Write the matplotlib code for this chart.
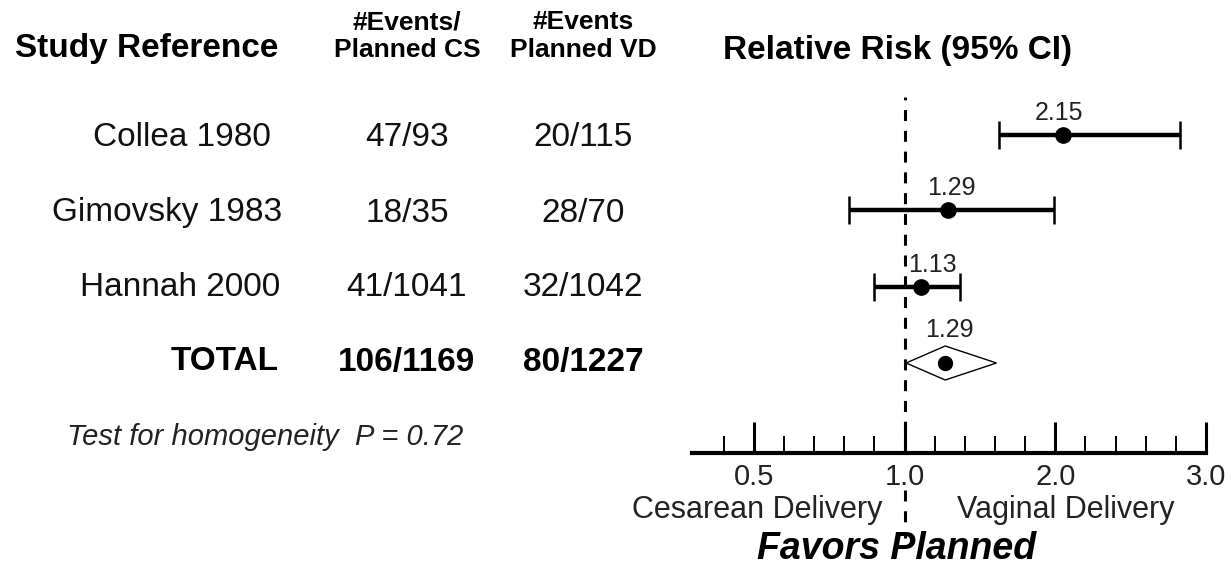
import numpy as np
import matplotlib
matplotlib.use("Agg")
import matplotlib.pyplot as plt
from matplotlib.patches import Polygon

plt.rcParams['font.family'] = ['Liberation Sans', 'DejaVu Sans']

# ---------------- data ----------------
studies = ["Collea 1980", "Gimovsky 1983", "Hannah 2000"]
cs_events = ["47/93", "18/35", "41/1041"]
vd_events = ["20/115", "28/70", "32/1042"]
rr_labels = ["2.15", "1.29", "1.13"]
rr_points = [2.05, 1.29, 1.11]
ci_low = [1.63, 0.815, 0.90]
ci_high = [2.83, 1.99, 1.37]

total_label = "TOTAL"
total_cs = "106/1169"
total_vd = "80/1227"
total_rr_label = "1.29"
total_rr = 1.27
total_low = 1.01
total_high = 1.61

major_ticks = [0.5, 1.0, 2.0, 3.0]
major_labels = ["0.5", "1.0", "2.0", "3.0"]
minor_ticks = [0.4, 0.6, 0.7, 0.8, 0.9, 1.2, 1.4, 1.6, 1.8, 2.2, 2.4, 2.6, 2.8]

# ---------------- figure ----------------
W, H = 1231, 572
fig = plt.figure(figsize=(W / 100, H / 100), dpi=100)


def fx(px):
    return px / W


def fy(py):
    return 1 - py / H


def ftext(px, py, s, **kw):
    fig.text(fx(px), fy(py), s, **kw)


# headers
ftext(15, 48, "Study Reference", fontsize=24, fontweight='bold', ha='left', va='center')
ftext(407, 22, "#Events/", fontsize=19, fontweight='bold', ha='center', va='center')
ftext(407, 50, "Planned CS", fontsize=19, fontweight='bold', ha='center', va='center')
ftext(583, 22, "#Events", fontsize=19, fontweight='bold', ha='center', va='center')
ftext(583, 50, "Planned VD", fontsize=19, fontweight='bold', ha='center', va='center')
ftext(723, 50, "Relative Risk (95% CI)", fontsize=24, fontweight='bold', ha='left', va='center')

row_py = [137, 213, 288]
name_right = [271, 282, 280]
for i, name in enumerate(studies):
    ftext(name_right[i], row_py[i], name, fontsize=24, ha='right', va='center', color='#111111')
    ftext(407, row_py[i], cs_events[i], fontsize=24, ha='center', va='center', color='#111111')
    ftext(583, row_py[i], vd_events[i], fontsize=24, ha='center', va='center', color='#111111')

ftext(279, 362, total_label, fontsize=24, fontweight='bold', ha='right', va='center')
ftext(407, 362, total_cs, fontsize=24, fontweight='bold', ha='center', va='center')
ftext(583, 362, total_vd, fontsize=24, fontweight='bold', ha='center', va='center')

ftext(67, 437, "Test for homogeneity  P = 0.72", fontsize=21, style='italic',
      ha='left', va='center', color='#222222')

ftext(757, 510, "Cesarean Delivery", fontsize=22, ha='center', va='center', color='#222222')
ftext(1066, 510, "Vaginal Delivery", fontsize=22, ha='center', va='center', color='#222222')
ftext(897, 549, "Favors Planned", fontsize=27, fontweight='bold', style='italic',
      ha='center', va='center')

# ---------------- forest axes ----------------
ax_left, ax_right, ax_top, ax_bot = 692, 1206, 97, 453
ax = fig.add_axes([fx(ax_left), fy(ax_bot), (ax_right - ax_left) / W, (ax_bot - ax_top) / H])


def fwd(x):
    x = np.asarray(x, dtype=float)
    return np.where(x < 1, (x - 1) * 2.0, x - 1)


def inv(u):
    u = np.asarray(u, dtype=float)
    return np.where(u < 0, 1 + u / 2.0, 1 + u)


ax.set_xscale('function', functions=(fwd, inv))
ax.set_xlim(0.295, 3.0)

row_step = 76.0
y0 = 135.0


def ydata(py):
    return (py - y0) / row_step


ax.set_ylim(ydata(ax_bot), ydata(ax_top))

for s in ['top', 'left', 'right']:
    ax.spines[s].set_visible(False)
ax.spines['bottom'].set_linewidth(3)
ax.set_yticks([])

ax.set_xticks(major_ticks)
ax.set_xticklabels(major_labels)
ax.set_xticks(minor_ticks, minor=True)
ax.tick_params(axis='x', which='major', direction='in', length=22, width=2.2,
               labelsize=21, pad=7, labelcolor='#222222')
ax.tick_params(axis='x', which='minor', direction='in', length=12, width=1.4)

ax.patch.set_alpha(0)

# dashed reference line
dash = (0, (3.6, 3.2))
ax.axvline(1.0, color='black', lw=2.2, linestyle=dash, zorder=1)
ax.plot([1.0, 1.0], [ydata(490), ydata(538)], color='black', lw=2.2,
        linestyle=dash, clip_on=False, zorder=1)

# study estimates
ys_px = [135, 210, 287]
ys = np.array([ydata(p) for p in ys_px])
xerr = [np.array(rr_points) - np.array(ci_low), np.array(ci_high) - np.array(rr_points)]
ax.errorbar(rr_points, ys, xerr=xerr, fmt='o', color='black', ms=11,
            elinewidth=3.2, capsize=10, capthick=1.8, zorder=3)

label_dx = [-3, 2, 8]
for i in range(len(studies)):
    ax.annotate(rr_labels[i], (rr_points[i], ys[i]), xytext=(label_dx[i], 16),
                textcoords='offset points', ha='center', va='center',
                fontsize=18, color='#222222')

# total diamond
yt = ydata(363)
hh = 17 / row_step
diamond = Polygon([(total_low, yt), (total_rr, yt - hh), (total_high, yt), (total_rr, yt + hh)],
                  closed=True, facecolor='white', edgecolor='black', lw=1.0, zorder=3)
ax.add_patch(diamond)
ax.plot([total_rr], [yt], 'o', color='black', ms=10, zorder=4)
ax.annotate(total_rr_label, (total_rr, yt), xytext=(3, 24), textcoords='offset points',
            ha='center', va='center', fontsize=18, color='#222222')

fig.savefig("out.png", dpi=100)
